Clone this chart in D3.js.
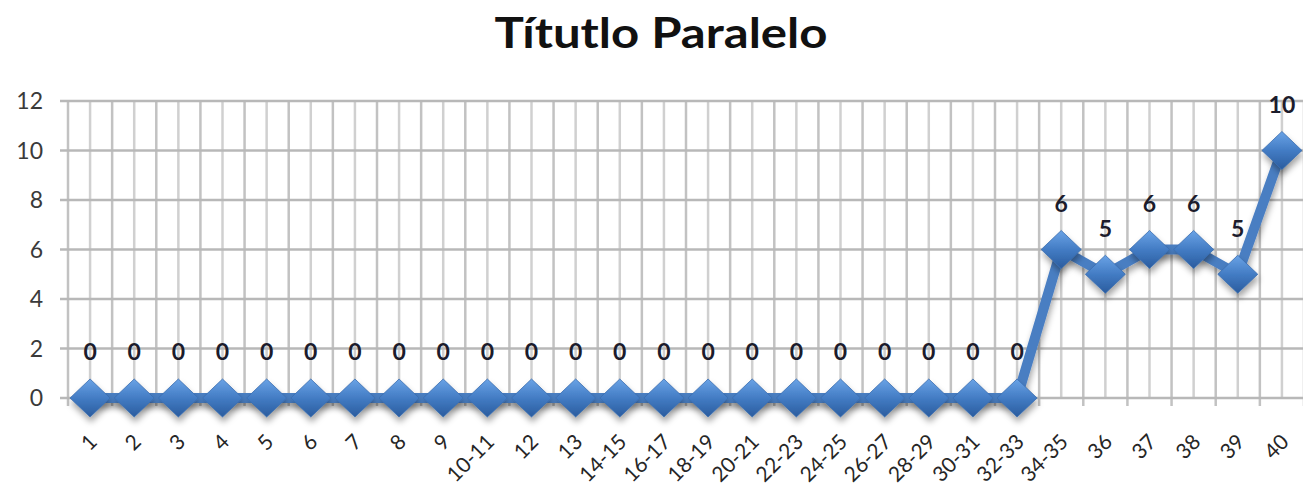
<!DOCTYPE html>
<html>
<head lang="es">
    <meta charset="UTF-8">
    <title>Títutlo Paralelo</title>
    <script type="text/javascript" src="https://d3js.org/d3.v7.min.js"></script>
    <style type="text/css">
        body { margin: 0; background: #fff; }
        .title { font-family: Lato, "Open Sans", sans-serif; font-weight: bold; fill: #111; }
        .ylab { font-family: Lato, "Open Sans", sans-serif; fill: #3a3a3a; text-anchor: end; }
        .xlab { font-family: Lato, "Open Sans", sans-serif; fill: #262626; text-anchor: end; }
        .dlab { font-family: Lato, "Open Sans", sans-serif; font-weight: bold; fill: #1c1c2c; text-anchor: middle; }
    </style>
</head>
<body>
<script type="text/javascript">
    var categories = ["1","2","3","4","5","6","7","8","9","10-11","12","13","14-15","16-17",
                      "18-19","20-21","22-23","24-25","26-27","28-29","30-31","32-33","34-35",
                      "36","37","38","39","40"];
    var values = [0,0,0,0,0,0,0,0,0,0,0,0,0,0,0,0,0,0,0,0,0,0,6,5,6,6,5,10];
    var yTicks = [0,2,4,6,8,10,12];
    var titleText = "Títutlo Paralelo";

    var W = 1303, H = 493;
    var svg = d3.select("body").append("svg").attr("width", W).attr("height", H);

    var defs = svg.append("defs");
    var grad = defs.append("linearGradient").attr("id", "dgrad")
        .attr("x1", 0).attr("y1", 0).attr("x2", 0).attr("y2", 1);
    grad.append("stop").attr("offset", "0%").attr("stop-color", "#6aa3e6");
    grad.append("stop").attr("offset", "50%").attr("stop-color", "#437cc4");
    grad.append("stop").attr("offset", "100%").attr("stop-color", "#2a5c9e");
    var sh = defs.append("filter").attr("id", "shadow")
        .attr("x", "-30%").attr("y", "-30%").attr("width", "160%").attr("height", "160%");
    sh.append("feDropShadow").attr("dx", 1).attr("dy", 5).attr("stdDeviation", 3)
        .attr("flood-color", "#000").attr("flood-opacity", 0.35);

    var x = d3.scaleBand().domain(categories).range([68, 1304]);
    var y = d3.scaleLinear().domain([0, 12]).range([398, 101]);
    var bw = x.bandwidth();

    // grid
    var grid = svg.append("g");
    var bounds = categories.map(function(c){ return x(c); }).concat([x.range()[1]]);
    var centers = categories.map(function(c){ return x(c) + bw / 2; });
    grid.selectAll("line.vc").data(centers).enter().append("line")
        .attr("x1", function(d){ return d; }).attr("x2", function(d){ return d; })
        .attr("y1", y(12)).attr("y2", y(0))
        .attr("stroke", "#d0d0d0").attr("stroke-width", 2.5);
    grid.selectAll("line.vb").data(bounds).enter().append("line")
        .attr("x1", function(d){ return d; }).attr("x2", function(d){ return d; })
        .attr("y1", y(12)).attr("y2", y(0) + 8)
        .attr("stroke", "#c2c2c2").attr("stroke-width", 2.5);
    grid.selectAll("line.h").data(yTicks).enter().append("line")
        .attr("x1", 60).attr("x2", W)
        .attr("y1", function(d){ return y(d); }).attr("y2", function(d){ return y(d); })
        .attr("stroke", "#b8b8b8").attr("stroke-width", 2.5);

    // y labels
    svg.selectAll("text.ylab").data(yTicks).enter().append("text")
        .attr("class", "ylab").attr("x", 43).attr("y", function(d){ return y(d); })
        .attr("dy", "0.36em").style("font-size", "23px")
        .text(function(d){ return d; });

    // x labels
    svg.selectAll("text.xlab").data(categories).enter().append("text")
        .attr("class", "xlab")
        .attr("transform", function(d){ return "translate(" + (x(d) + bw / 2 + 3) + ",438) rotate(-45)"; })
        .attr("dy", "0.35em").style("font-size", "21px")
        .text(function(d){ return d; });

    // line
    var pts = categories.map(function(c, i){ return [x(c) + bw / 2, y(values[i])]; });
    svg.append("path").datum(pts)
        .attr("d", d3.line())
        .attr("fill", "none").attr("stroke", "#4a7ec2").attr("stroke-width", 10)
        .attr("stroke-linejoin", "round").attr("filter", "url(#shadow)");

    // markers
    var r = 20;
    svg.selectAll("path.mk").data(pts).enter().append("path")
        .attr("d", function(p){
            return "M" + p[0] + "," + (p[1] - r + 1) + "L" + (p[0] + r) + "," + p[1] +
                   "L" + p[0] + "," + (p[1] + r - 1) + "L" + (p[0] - r) + "," + p[1] + "Z";
        })
        .attr("fill", "url(#dgrad)").attr("stroke", "#3a6db0").attr("stroke-width", 0.8)
        .attr("filter", "url(#shadow)");

    // data labels
    svg.selectAll("text.dlab").data(pts).enter().append("text")
        .attr("class", "dlab")
        .attr("x", function(p){ return p[0]; }).attr("y", function(p){ return p[1] - 46; })
        .attr("dy", "0.36em").style("font-size", "23px")
        .text(function(p, i){ return values[i]; });

    // title
    svg.append("text").attr("class", "title")
        .attr("x", 661).attr("y", 48).attr("text-anchor", "middle")
        .style("font-size", "42px").attr("textLength", 333).attr("lengthAdjust", "spacingAndGlyphs")
        .text(titleText);
</script>
</body>
</html>
